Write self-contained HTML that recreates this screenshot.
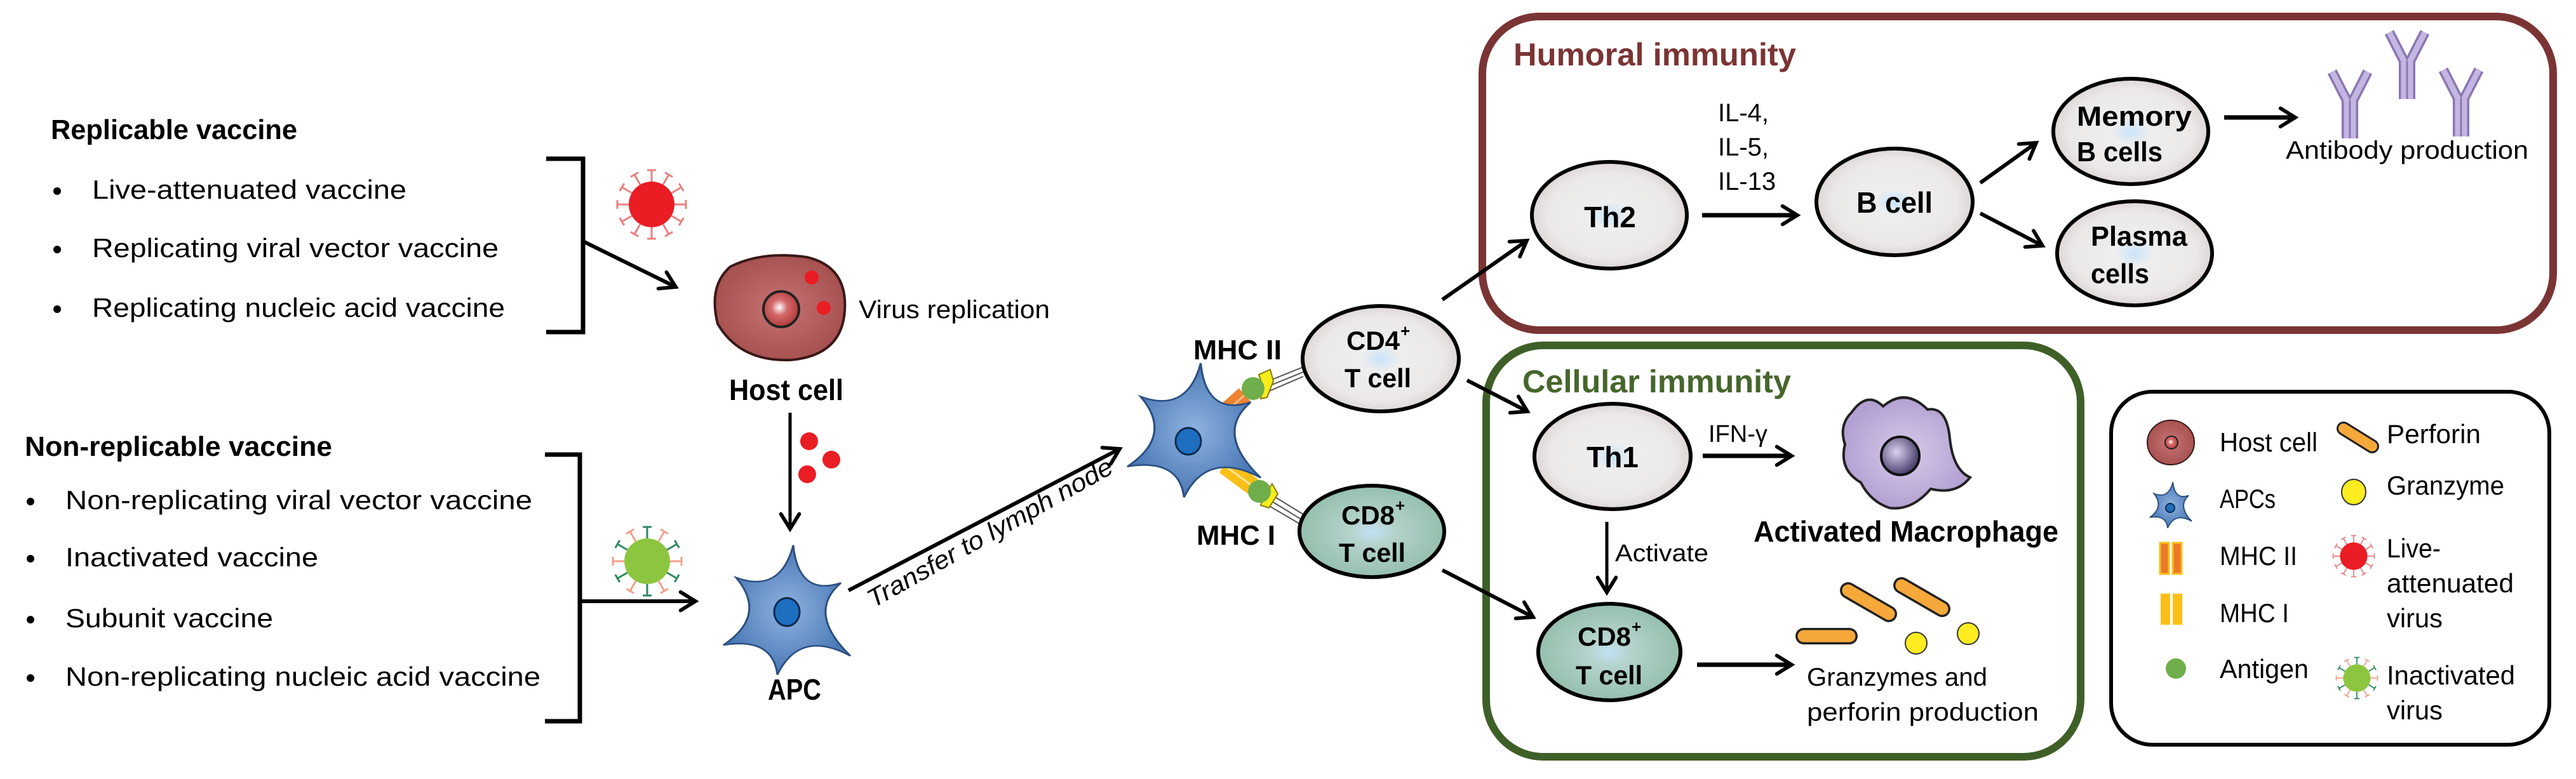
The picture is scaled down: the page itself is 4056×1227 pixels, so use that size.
<!DOCTYPE html>
<html><head><meta charset="utf-8"><style>html,body{margin:0;padding:0;background:#fff}svg{display:block}text{font-family:"Liberation Sans",sans-serif}</style></head><body>
<svg xmlns="http://www.w3.org/2000/svg" width="4056" height="1227" viewBox="0 0 4056 1227">
<defs>
<marker id="a" viewBox="0 0 20 20" refX="17" refY="10" markerWidth="36" markerHeight="36" markerUnits="userSpaceOnUse" orient="auto"><path d="M4,2 L17,10 L4,18" fill="none" stroke="#000" stroke-width="3.2" stroke-linecap="round"/></marker>
<radialGradient id="cg" cx="50%" cy="50%" r="50%"><stop offset="0" stop-color="#c9e4fa"/><stop offset="0.25" stop-color="#eeeeee"/><stop offset="0.8" stop-color="#ece8e8"/><stop offset="1" stop-color="#ddd6d6"/></radialGradient>
<radialGradient id="tg" cx="50%" cy="50%" r="50%"><stop offset="0" stop-color="#c3e0f5"/><stop offset="0.3" stop-color="#b5d3cc"/><stop offset="1" stop-color="#95bfae"/></radialGradient>
<radialGradient id="hg" cx="50%" cy="50%" r="50%"><stop offset="0" stop-color="#c77474"/><stop offset="1" stop-color="#a85252"/></radialGradient>
<radialGradient id="ng" cx="45%" cy="45%" r="55%"><stop offset="0" stop-color="#fff"/><stop offset="0.4" stop-color="#d46c6c"/><stop offset="1" stop-color="#b33b3b"/></radialGradient>
<radialGradient id="ag" cx="50%" cy="50%" r="50%"><stop offset="0" stop-color="#8fb3e0"/><stop offset="1" stop-color="#4a78b5"/></radialGradient>
<radialGradient id="mg" cx="50%" cy="50%" r="50%"><stop offset="0" stop-color="#d7cbe9"/><stop offset="1" stop-color="#b3a1d3"/></radialGradient>
<radialGradient id="mn" cx="40%" cy="40%" r="60%"><stop offset="0" stop-color="#d9d2ee"/><stop offset="1" stop-color="#4b3f6e"/></radialGradient>
<path id="star" d="M10,-125 Q18,-30 85,-55 Q30,0 100,80 Q20,30 -15,115 Q-22,45 -100,60 Q-30,5 -80,-65 Q-10,-35 10,-125 Z"/>
<g id="spk"><line x1="0" y1="-36" x2="0" y2="-54" stroke-width="3"/><line x1="-7" y1="-54" x2="7" y2="-54" stroke-width="3"/></g>
<g id="rv"><circle r="36" fill="#ea1c24"/>
<g stroke="#e98080"><use href="#spk"/><use href="#spk" transform="rotate(30)"/><use href="#spk" transform="rotate(60)"/><use href="#spk" transform="rotate(90)"/><use href="#spk" transform="rotate(120)"/><use href="#spk" transform="rotate(150)"/><use href="#spk" transform="rotate(180)"/><use href="#spk" transform="rotate(210)"/><use href="#spk" transform="rotate(240)"/><use href="#spk" transform="rotate(270)"/><use href="#spk" transform="rotate(300)"/><use href="#spk" transform="rotate(330)"/></g></g>
<g id="gv"><circle r="36" fill="#8cc640"/>
<g stroke="#2e8a5c"><use href="#spk"/><use href="#spk" transform="rotate(60)"/><use href="#spk" transform="rotate(120)"/><use href="#spk" transform="rotate(180)"/><use href="#spk" transform="rotate(240)"/><use href="#spk" transform="rotate(300)"/></g>
<g stroke="#f2a08a"><use href="#spk" transform="rotate(30)"/><use href="#spk" transform="rotate(90)"/><use href="#spk" transform="rotate(150)"/><use href="#spk" transform="rotate(210)"/><use href="#spk" transform="rotate(270)"/><use href="#spk" transform="rotate(330)"/></g></g>
<g id="ab"><path d="M-5,0 V-60 L-28,-105 M5,0 V-60 L28,-105" fill="none" stroke="#8a76b3" stroke-width="16" stroke-linejoin="round"/><path d="M-5,0 V-60 L-28,-105 M5,0 V-60 L28,-105" fill="none" stroke="#c4b6e2" stroke-width="9" stroke-linejoin="round"/><path d="M0,0 V-60" stroke="#8a76b3" stroke-width="3"/></g>
</defs>

<text x="80" y="219" font-size="44" font-weight="bold" textLength="388" lengthAdjust="spacingAndGlyphs">Replicable vaccine</text>
<g font-size="42">
<circle cx="90" cy="301" r="6"/><text x="145" y="313" textLength="495" lengthAdjust="spacingAndGlyphs">Live-attenuated vaccine</text>
<circle cx="90" cy="393" r="6"/><text x="145" y="405" textLength="640" lengthAdjust="spacingAndGlyphs">Replicating viral vector vaccine</text>
<circle cx="90" cy="487" r="6"/><text x="145" y="499" textLength="650" lengthAdjust="spacingAndGlyphs">Replicating nucleic acid vaccine</text>
</g>
<text x="39" y="718" font-size="44" font-weight="bold" textLength="484" lengthAdjust="spacingAndGlyphs">Non-replicable vaccine</text>
<g font-size="42">
<circle cx="48" cy="790" r="6"/><text x="103" y="802" textLength="735" lengthAdjust="spacingAndGlyphs">Non-replicating viral vector vaccine</text>
<circle cx="48" cy="880" r="6"/><text x="103" y="892" textLength="398" lengthAdjust="spacingAndGlyphs">Inactivated vaccine</text>
<circle cx="48" cy="976" r="6"/><text x="103" y="988" textLength="327" lengthAdjust="spacingAndGlyphs">Subunit vaccine</text>
<circle cx="48" cy="1068" r="6"/><text x="103" y="1080" textLength="748" lengthAdjust="spacingAndGlyphs">Non-replicating nucleic acid vaccine</text>
</g>
<path d="M860,250 H918 V523 H860" fill="none" stroke="#000" stroke-width="7"/>
<path d="M858,716 H913 V1136 H858" fill="none" stroke="#000" stroke-width="7"/>
<line x1="918" y1="380" x2="1064" y2="452" stroke="#000" stroke-width="6" marker-end="url(#a)"/>
<line x1="913" y1="947" x2="1095" y2="947" stroke="#000" stroke-width="6" marker-end="url(#a)"/>
<use href="#rv" x="1026" y="322"/>
<use href="#gv" x="1019" y="884"/>

<path d="M1150,420 Q1200,395 1270,405 Q1335,420 1330,490 Q1325,560 1245,567 Q1165,570 1130,510 Q1115,450 1150,420 Z" fill="url(#hg)" stroke="#3a1818" stroke-width="4"/>
<circle cx="1230" cy="487" r="28" fill="url(#ng)" stroke="#222" stroke-width="4"/>
<circle cx="1278" cy="437" r="11" fill="#ea1c24"/><circle cx="1297" cy="485" r="11" fill="#ea1c24"/>
<text x="1352" y="501" font-size="40" textLength="301" lengthAdjust="spacingAndGlyphs">Virus replication</text>
<text x="1148" y="630" font-size="46" font-weight="bold" textLength="180" lengthAdjust="spacingAndGlyphs">Host cell</text>
<line x1="1244" y1="650" x2="1244" y2="833" stroke="#000" stroke-width="5" marker-end="url(#a)"/>
<circle cx="1274" cy="695" r="14" fill="#ea1c24"/><circle cx="1309" cy="724" r="14" fill="#ea1c24"/><circle cx="1271" cy="747" r="14" fill="#ea1c24"/>

<use href="#star" transform="translate(1239,965) scale(1.0,0.85)" fill="url(#ag)" stroke="#2c4f80" stroke-width="3"/>
<ellipse cx="1239" cy="964" rx="20" ry="22" fill="#1f6fc0" stroke="#0a2a50" stroke-width="3"/>
<text x="1209" y="1102" font-size="46" font-weight="bold" textLength="84" lengthAdjust="spacingAndGlyphs">APC</text>
<line x1="1336" y1="930" x2="1763" y2="707" stroke="#000" stroke-width="6" marker-end="url(#a)"/>
<text x="0" y="0" font-size="40" font-style="italic" textLength="437" lengthAdjust="spacingAndGlyphs" transform="translate(1375,958) rotate(-29.4)">Transfer to lymph node</text>

<line x1="1915" y1="662" x2="1960" y2="622" stroke="#ee8230" stroke-width="28"/>
<line x1="1915" y1="662" x2="1960" y2="622" stroke="#f8c08a" stroke-width="3"/>
<line x1="1928" y1="733" x2="1975" y2="768" stroke="#fbbf18" stroke-width="28"/>
<line x1="1928" y1="733" x2="1975" y2="768" stroke="#fde6a0" stroke-width="3"/>
<use href="#star" transform="translate(1880,682) scale(1.05,0.88)" fill="url(#ag)" stroke="#2c4f80" stroke-width="3"/>
<ellipse cx="1871" cy="695" rx="20" ry="21" fill="#1f6fc0" stroke="#0a2a50" stroke-width="3"/>
<g stroke="#555" stroke-width="2"><line x1="1990" y1="603" x2="2052" y2="578"/><line x1="1993" y1="610" x2="2052" y2="586"/><line x1="1996" y1="617" x2="2052" y2="593"/>
<line x1="1995" y1="775" x2="2055" y2="812"/><line x1="1990" y1="782" x2="2052" y2="820"/><line x1="1985" y1="789" x2="2048" y2="826"/></g>
<path d="M1982,590 L2000,582 L2005,600 L1995,626 L1985,628 L1988,608 Z" fill="#f7ec1c" stroke="#8a7a00" stroke-width="2"/>
<path d="M2003,762 L2012,778 L1998,800 L1985,796 L1990,782 Z" fill="#f7ec1c" stroke="#8a7a00" stroke-width="2"/>
<circle cx="1973" cy="612" r="18" fill="#6fae4a"/>
<circle cx="1983" cy="774" r="18" fill="#6fae4a"/>
<text x="1879" y="566" font-size="44" font-weight="bold" textLength="139" lengthAdjust="spacingAndGlyphs">MHC II</text>
<text x="1884" y="858" font-size="44" font-weight="bold" textLength="124" lengthAdjust="spacingAndGlyphs">MHC I</text>

<ellipse cx="2174" cy="565" rx="123" ry="83" fill="url(#cg)" stroke="#000" stroke-width="6"/>
<text x="2120" y="551" font-size="42" font-weight="bold" textLength="84" lengthAdjust="spacingAndGlyphs">CD4</text><text x="2205" y="530" font-size="26" font-weight="bold">+</text>
<text x="2117" y="610" font-size="42" font-weight="bold" textLength="105" lengthAdjust="spacingAndGlyphs">T cell</text>
<ellipse cx="2160" cy="837" rx="114" ry="72" fill="url(#tg)" stroke="#000" stroke-width="6"/>
<text x="2112" y="826" font-size="42" font-weight="bold" textLength="84" lengthAdjust="spacingAndGlyphs">CD8</text><text x="2197" y="805" font-size="26" font-weight="bold">+</text>
<text x="2108" y="885" font-size="42" font-weight="bold" textLength="105" lengthAdjust="spacingAndGlyphs">T cell</text>

<rect x="2334" y="26" width="1686" height="494" rx="90" fill="none" stroke="#7b3434" stroke-width="12"/>
<text x="2383" y="103" font-size="50" font-weight="bold" fill="#7b3434" textLength="445" lengthAdjust="spacingAndGlyphs">Humoral immunity</text>
<line x1="2271" y1="472" x2="2404" y2="379" stroke="#000" stroke-width="6" marker-end="url(#a)"/>
<ellipse cx="2534" cy="339" rx="122" ry="84" fill="url(#cg)" stroke="#000" stroke-width="6"/>
<text x="2535" y="358" font-size="46" font-weight="bold" text-anchor="middle">Th2</text>
<g font-size="40"><text x="2705" y="191">IL-4,</text><text x="2705" y="245">IL-5,</text><text x="2705" y="299">IL-13</text></g>
<line x1="2680" y1="339" x2="2830" y2="339" stroke="#000" stroke-width="7" marker-end="url(#a)"/>
<ellipse cx="2983" cy="318" rx="123" ry="84" fill="url(#cg)" stroke="#000" stroke-width="6"/>
<text x="2983" y="335" font-size="46" font-weight="bold" text-anchor="middle" textLength="120" lengthAdjust="spacingAndGlyphs">B cell</text>
<line x1="3118" y1="288" x2="3206" y2="225" stroke="#000" stroke-width="6" marker-end="url(#a)"/>
<line x1="3118" y1="336" x2="3216" y2="387" stroke="#000" stroke-width="6" marker-end="url(#a)"/>
<ellipse cx="3355" cy="207" rx="122" ry="83" fill="url(#cg)" stroke="#000" stroke-width="6"/>
<text x="3270" y="198" font-size="44" font-weight="bold" textLength="181" lengthAdjust="spacingAndGlyphs">Memory</text>
<text x="3270" y="254" font-size="44" font-weight="bold" textLength="135" lengthAdjust="spacingAndGlyphs">B cells</text>
<ellipse cx="3361" cy="399" rx="122" ry="82" fill="url(#cg)" stroke="#000" stroke-width="6"/>
<text x="3292" y="387" font-size="44" font-weight="bold" textLength="152" lengthAdjust="spacingAndGlyphs">Plasma</text>
<text x="3292" y="446" font-size="44" font-weight="bold" textLength="92" lengthAdjust="spacingAndGlyphs">cells</text>
<line x1="3502" y1="185" x2="3614" y2="185" stroke="#000" stroke-width="7" marker-end="url(#a)"/>
<use href="#ab" x="3700" y="218"/><use href="#ab" x="3790" y="156"/><use href="#ab" x="3875" y="215"/>
<text x="3599" y="250" font-size="40" textLength="382" lengthAdjust="spacingAndGlyphs">Antibody production</text>

<rect x="2340" y="544" width="936" height="648" rx="90" fill="none" stroke="#3f5f28" stroke-width="12"/>
<text x="2397" y="618" font-size="50" font-weight="bold" fill="#46662c" textLength="423" lengthAdjust="spacingAndGlyphs">Cellular immunity</text>
<line x1="2310" y1="599" x2="2405" y2="648" stroke="#000" stroke-width="6" marker-end="url(#a)"/>
<ellipse cx="2539" cy="719" rx="123" ry="83" fill="url(#cg)" stroke="#000" stroke-width="6"/>
<text x="2539" y="736" font-size="46" font-weight="bold" text-anchor="middle">Th1</text>
<text x="2690" y="696" font-size="38">IFN-γ</text>
<line x1="2681" y1="718" x2="2821" y2="718" stroke="#000" stroke-width="7" marker-end="url(#a)"/>
<path d="M2915,650 Q2940,615 2965,640 Q3000,610 3035,645 Q3065,640 3070,690 Q3075,740 3102,752 Q3080,780 3040,770 Q3010,805 2975,800 Q2945,790 2930,760 Q2895,740 2905,700 Q2895,670 2915,650 Z" fill="url(#mg)" stroke="#222" stroke-width="4"/>
<circle cx="2992" cy="718" r="30" fill="url(#mn)" stroke="#111" stroke-width="4"/>
<text x="2761" y="853" font-size="46" font-weight="bold" textLength="480" lengthAdjust="spacingAndGlyphs">Activated Macrophage</text>
<line x1="2530" y1="822" x2="2530" y2="933" stroke="#000" stroke-width="5" marker-end="url(#a)"/>
<text x="2543" y="884" font-size="38" textLength="147" lengthAdjust="spacingAndGlyphs">Activate</text>
<line x1="2271" y1="898" x2="2414" y2="972" stroke="#000" stroke-width="6" marker-end="url(#a)"/>
<ellipse cx="2534" cy="1027" rx="112" ry="76" fill="url(#tg)" stroke="#000" stroke-width="6"/>
<text x="2484" y="1017" font-size="42" font-weight="bold" textLength="84" lengthAdjust="spacingAndGlyphs">CD8</text><text x="2569" y="996" font-size="26" font-weight="bold">+</text>
<text x="2481" y="1078" font-size="42" font-weight="bold" textLength="105" lengthAdjust="spacingAndGlyphs">T cell</text>
<line x1="2672" y1="1047" x2="2821" y2="1047" stroke="#000" stroke-width="7" marker-end="url(#a)"/>
<g stroke-linecap="round"><line x1="2840" y1="1002" x2="2912" y2="1002" stroke="#222" stroke-width="26"/><line x1="2840" y1="1002" x2="2912" y2="1002" stroke="#f6a83a" stroke-width="19"/>
<line x1="2910" y1="930" x2="2974" y2="967" stroke="#222" stroke-width="26"/><line x1="2910" y1="930" x2="2974" y2="967" stroke="#f6a83a" stroke-width="19"/>
<line x1="2994" y1="922" x2="3058" y2="959" stroke="#222" stroke-width="26"/><line x1="2994" y1="922" x2="3058" y2="959" stroke="#f6a83a" stroke-width="19"/></g>
<circle cx="3017" cy="1013" r="17" fill="#fdec1f" stroke="#333" stroke-width="2"/>
<circle cx="3099" cy="998" r="17" fill="#fdec1f" stroke="#333" stroke-width="2"/>
<text x="2845" y="1080" font-size="40" textLength="284" lengthAdjust="spacingAndGlyphs">Granzymes and</text>
<text x="2845" y="1135" font-size="40" textLength="365" lengthAdjust="spacingAndGlyphs">perforin production</text>

<rect x="3324" y="617" width="690" height="556" rx="65" fill="none" stroke="#000" stroke-width="6"/>
<ellipse cx="3418" cy="697" rx="37" ry="35" fill="url(#hg)" stroke="#3a1818" stroke-width="2"/>
<circle cx="3419" cy="697" r="10" fill="url(#ng)" stroke="#222" stroke-width="2"/>
<text x="3495" y="711" font-size="42" textLength="154" lengthAdjust="spacingAndGlyphs">Host cell</text>
<line x1="3690" y1="675" x2="3735" y2="703" stroke="#222" stroke-width="22" stroke-linecap="round"/><line x1="3690" y1="675" x2="3735" y2="703" stroke="#f6a83a" stroke-width="16" stroke-linecap="round"/>
<text x="3758" y="698" font-size="42" textLength="148" lengthAdjust="spacingAndGlyphs">Perforin</text>
<use href="#star" transform="translate(3418,797) scale(0.33,0.3)" fill="url(#ag)" stroke="#2c4f80" stroke-width="6"/>
<circle cx="3417" cy="800" r="7" fill="#1f6fc0" stroke="#0a2a50" stroke-width="2"/>
<text x="3495" y="800" font-size="42" textLength="88" lengthAdjust="spacingAndGlyphs">APCs</text>
<ellipse cx="3706" cy="775" rx="19" ry="20" fill="#fdec1f" stroke="#333" stroke-width="2"/>
<text x="3758" y="779" font-size="42" textLength="185" lengthAdjust="spacingAndGlyphs">Granzyme</text>
<rect x="3401" y="855" width="14" height="49" fill="#ea7a2a" stroke="#fbbf18" stroke-width="3"/><rect x="3421" y="855" width="14" height="49" fill="#ea7a2a" stroke="#fbbf18" stroke-width="3"/>
<text x="3495" y="890" font-size="42" textLength="122" lengthAdjust="spacingAndGlyphs">MHC II</text>
<rect x="3402" y="935" width="15" height="49" fill="#fbbf18"/><rect x="3421" y="935" width="15" height="49" fill="#fbbf18"/>
<text x="3495" y="980" font-size="42" textLength="109" lengthAdjust="spacingAndGlyphs">MHC I</text>
<use href="#rv" transform="translate(3706,876) scale(0.6)"/>
<text x="3758" y="878" font-size="42" textLength="85" lengthAdjust="spacingAndGlyphs">Live-</text>
<text x="3758" y="933" font-size="42" textLength="200" lengthAdjust="spacingAndGlyphs">attenuated</text>
<text x="3758" y="988" font-size="42" textLength="88" lengthAdjust="spacingAndGlyphs">virus</text>
<circle cx="3426" cy="1053" r="16" fill="#6fae4a"/>
<text x="3495" y="1068" font-size="42" textLength="140" lengthAdjust="spacingAndGlyphs">Antigen</text>
<use href="#gv" transform="translate(3711,1068) scale(0.6)"/>
<text x="3758" y="1078" font-size="42" textLength="202" lengthAdjust="spacingAndGlyphs">Inactivated</text>
<text x="3758" y="1133" font-size="42" textLength="88" lengthAdjust="spacingAndGlyphs">virus</text>
</svg>
</body></html>
